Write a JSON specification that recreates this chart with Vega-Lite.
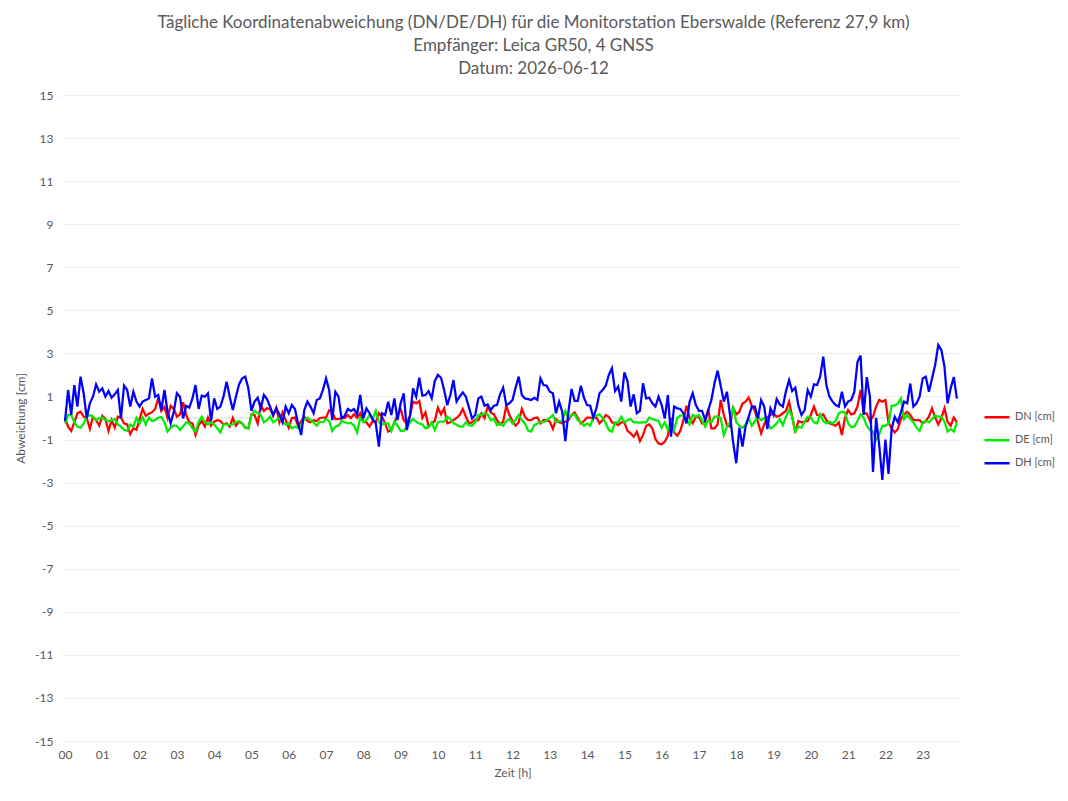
{
  "$schema": "https://vega.github.io/schema/vega-lite/v6.json",
  "width": 895,
  "height": 646,
  "autosize": {"type": "none"},
  "padding": {"left": 65, "top": 95, "right": 108, "bottom": 60},
  "background": "#ffffff",
  "config": {
    "view": {"stroke": null},
    "font": "Lato",
    "axis": {"labelFont": "Lato", "titleFont": "Lato", "labelColor": "#595959", "titleColor": "#595959", "labelFontSize": 12, "titleFontSize": 12, "titleFontWeight": "normal"},
    "legend": {"labelFont": "Lato", "labelColor": "#595959", "labelFontSize": 11}
  },
  "title": {
    "text": ["Tägliche Koordinatenabweichung (DN/DE/DH) für die Monitorstation Eberswalde (Referenz 27,9 km)", "Empfänger: Leica GR50, 4 GNSS", "Datum: 2026-06-12"],
    "anchor": "middle",
    "frame": "group",
    "dx": 21,
    "offset": 11,
    "fontSize": 17,
    "lineHeight": 23,
    "font": "Lato",
    "fontWeight": "normal",
    "color": "#595959"
  },
  "layer": [
    {
      "data": {"values": [{"z": 0}]},
      "mark": {"type": "rule", "color": "#d9d9d9", "strokeWidth": 1},
      "encoding": {"y": {"field": "z", "type": "quantitative"}}
    },
    {
      "data": {"values": [
{"m":0,"DN":0,"DE":-0.25,"DH":-0.14},{"m":5,"DN":-0.4,"DE":0.14,"DH":1.3},{"m":10,"DN":-0.6,"DE":0.14,"DH":0.14},{"m":15,"DN":-0.2,"DE":-0.2,"DH":1.53},{"m":20,"DN":0.22,"DE":-0.4,"DH":0.53},{"m":25,"DN":0.29,"DE":-0.45,"DH":1.92},{"m":30,"DN":0.06,"DE":-0.25,"DH":1.15},{"m":35,"DN":0,"DE":0.06,"DH":0},{"m":40,"DN":-0.5,"DE":0.14,"DH":0.68},{"m":45,"DN":0.06,"DE":0.06,"DH":0.99},
{"m":50,"DN":-0.1,"DE":-0.1,"DH":1.56},{"m":55,"DN":-0.35,"DE":0,"DH":1.22},{"m":60,"DN":0.1,"DE":0.02,"DH":1.38},{"m":65,"DN":-0.05,"DE":-0.1,"DH":0.99},{"m":70,"DN":-0.6,"DE":-0.14,"DH":1.25},{"m":75,"DN":-0.1,"DE":-0.1,"DH":0.94},{"m":80,"DN":-0.45,"DE":-0.05,"DH":1.1},{"m":85,"DN":0.06,"DE":-0.3,"DH":1.3},{"m":90,"DN":0.02,"DE":-0.4,"DH":-0.02},{"m":95,"DN":-0.25,"DE":-0.55,"DH":1.5},
{"m":100,"DN":-0.3,"DE":-0.6,"DH":1.3},{"m":105,"DN":-0.75,"DE":-0.3,"DH":0.53},{"m":110,"DN":-0.48,"DE":-0.4,"DH":1.22},{"m":115,"DN":-0.55,"DE":0,"DH":0.76},{"m":120,"DN":-0.05,"DE":-0.25,"DH":0.53},{"m":125,"DN":0.42,"DE":0.02,"DH":0.76},{"m":130,"DN":0.1,"DE":-0.3,"DH":0.84},{"m":135,"DN":0.2,"DE":0.02,"DH":0.91},{"m":140,"DN":0.26,"DE":-0.14,"DH":1.84},{"m":145,"DN":0.42,"DE":-0.1,"DH":0.99},
{"m":150,"DN":0.94,"DE":0.02,"DH":1.07},{"m":155,"DN":0.33,"DE":0.05,"DH":0.37},{"m":160,"DN":0.51,"DE":-0.2,"DH":1.3},{"m":165,"DN":0,"DE":-0.63,"DH":0.29},{"m":170,"DN":0.57,"DE":-0.45,"DH":-0.25},{"m":175,"DN":0.42,"DE":-0.35,"DH":0.29},{"m":180,"DN":0.06,"DE":-0.36,"DH":1.15},{"m":185,"DN":0.17,"DE":-0.56,"DH":0.99},{"m":190,"DN":0.73,"DE":-0.4,"DH":-0.02},{"m":195,"DN":0.14,"DE":-0.2,"DH":0.57},
{"m":200,"DN":-0.2,"DE":-0.25,"DH":0.48},{"m":205,"DN":-0.25,"DE":-0.48,"DH":0.91},{"m":210,"DN":-0.79,"DE":-0.63,"DH":1.53},{"m":215,"DN":-0.33,"DE":-0.17,"DH":0.42},{"m":220,"DN":-0.14,"DE":0.06,"DH":1.04},{"m":225,"DN":-0.4,"DE":-0.2,"DH":0.99},{"m":230,"DN":0.02,"DE":-0.3,"DH":1.15},{"m":235,"DN":-0.36,"DE":-0.2,"DH":-0.14},{"m":240,"DN":-0.17,"DE":-0.3,"DH":0.91},{"m":245,"DN":-0.1,"DE":-0.48,"DH":0.42},
{"m":250,"DN":-0.14,"DE":-0.67,"DH":0.53},{"m":255,"DN":-0.3,"DE":-0.3,"DH":0.99},{"m":260,"DN":-0.25,"DE":-0.3,"DH":1.69},{"m":265,"DN":-0.4,"DE":-0.33,"DH":0.99},{"m":270,"DN":0,"DE":-0.3,"DH":0.37},{"m":275,"DN":-0.36,"DE":-0.2,"DH":0.99},{"m":280,"DN":-0.17,"DE":-0.14,"DH":1.56},{"m":285,"DN":-0.25,"DE":-0.25,"DH":1.84},{"m":290,"DN":-0.45,"DE":-0.45,"DH":1.92},{"m":295,"DN":-0.48,"DE":-0.48,"DH":1.38},
{"m":300,"DN":0.17,"DE":0.14,"DH":0.33},{"m":305,"DN":0.14,"DE":0.33,"DH":0.76},{"m":310,"DN":-0.25,"DE":0.22,"DH":0.94},{"m":315,"DN":0.6,"DE":0.14,"DH":0.45},{"m":320,"DN":0.33,"DE":-0.2,"DH":1.07},{"m":325,"DN":0.45,"DE":-0.1,"DH":0.88},{"m":330,"DN":0.42,"DE":0.06,"DH":0.53},{"m":335,"DN":0.1,"DE":-0.2,"DH":0.14},{"m":340,"DN":0.48,"DE":-0.1,"DH":0.45},{"m":345,"DN":-0.2,"DE":0.02,"DH":0.17},
{"m":350,"DN":0.26,"DE":-0.2,"DH":-0.2},{"m":355,"DN":-0.1,"DE":-0.3,"DH":0.53},{"m":360,"DN":-0.45,"DE":-0.25,"DH":0.22},{"m":365,"DN":0,"DE":-0.48,"DH":0.6},{"m":370,"DN":0.02,"DE":-0.4,"DH":0.42},{"m":375,"DN":-0.36,"DE":-0.45,"DH":-0.25},{"m":380,"DN":-0.14,"DE":-0.33,"DH":-0.79},{"m":385,"DN":0.06,"DE":-0.05,"DH":0.37},{"m":390,"DN":-0.14,"DE":0.02,"DH":0.76},{"m":395,"DN":-0.2,"DE":-0.1,"DH":0.53},
{"m":400,"DN":-0.1,"DE":-0.2,"DH":0.22},{"m":405,"DN":-0.14,"DE":-0.36,"DH":0.84},{"m":410,"DN":0,"DE":-0.17,"DH":0.91},{"m":415,"DN":0.02,"DE":-0.2,"DH":1.3},{"m":420,"DN":0.02,"DE":-0.05,"DH":1.84},{"m":425,"DN":0.36,"DE":-0.14,"DH":1.3},{"m":430,"DN":0.26,"DE":-0.6,"DH":-0.1},{"m":435,"DN":-0.05,"DE":-0.4,"DH":1.22},{"m":440,"DN":-0.05,"DE":-0.36,"DH":0.99},{"m":445,"DN":0,"DE":-0.14,"DH":-0.02},
{"m":450,"DN":0,"DE":-0.2,"DH":0.1},{"m":455,"DN":0.14,"DE":-0.25,"DH":0.42},{"m":460,"DN":0,"DE":-0.23,"DH":0.33},{"m":465,"DN":0.17,"DE":-0.36,"DH":0.42},{"m":470,"DN":0,"DE":-0.67,"DH":0.17},{"m":475,"DN":0.22,"DE":0,"DH":1.07},{"m":480,"DN":-0.17,"DE":-0.2,"DH":-0.02},{"m":485,"DN":-0.2,"DE":-0.1,"DH":0.45},{"m":490,"DN":-0.4,"DE":0.14,"DH":0.22},{"m":495,"DN":-0.14,"DE":-0.05,"DH":-0.05},
{"m":500,"DN":-0.2,"DE":0.33,"DH":-0.25},{"m":505,"DN":0.22,"DE":-0.2,"DH":-1.33},{"m":510,"DN":0.06,"DE":-0.3,"DH":0.22},{"m":515,"DN":-0.25,"DE":-0.25,"DH":0.14},{"m":520,"DN":-0.63,"DE":-0.25,"DH":0.76},{"m":525,"DN":-0.56,"DE":-0.6,"DH":0.14},{"m":530,"DN":-0.2,"DE":-0.17,"DH":0.91},{"m":535,"DN":0.14,"DE":-0.36,"DH":-0.1},{"m":540,"DN":0.42,"DE":-0.6,"DH":0.68},{"m":545,"DN":-0.1,"DE":-0.6,"DH":1.15},
{"m":550,"DN":-0.25,"DE":-0.42,"DH":-0.56},{"m":555,"DN":0.1,"DE":-0.2,"DH":0.1},{"m":560,"DN":0.76,"DE":-0.05,"DH":1.38},{"m":565,"DN":0.68,"DE":-0.17,"DH":0.99},{"m":570,"DN":0.79,"DE":-0.25,"DH":1.87},{"m":575,"DN":0,"DE":-0.3,"DH":1.04},{"m":580,"DN":0.26,"DE":-0.48,"DH":1.07},{"m":585,"DN":-0.4,"DE":-0.42,"DH":1.25},{"m":590,"DN":-0.25,"DE":-0.2,"DH":0.91},{"m":595,"DN":-0.14,"DE":-0.56,"DH":1.72},
{"m":600,"DN":0.48,"DE":-0.2,"DH":2.0},{"m":605,"DN":0.17,"DE":-0.17,"DH":1.87},{"m":610,"DN":0.45,"DE":-0.17,"DH":1.3},{"m":615,"DN":-0.25,"DE":0.06,"DH":0.6},{"m":620,"DN":-0.2,"DE":-0.05,"DH":1.07},{"m":625,"DN":-0.1,"DE":-0.25,"DH":1.76},{"m":630,"DN":0,"DE":-0.3,"DH":0.76},{"m":635,"DN":0.14,"DE":-0.4,"DH":0.99},{"m":640,"DN":0.42,"DE":-0.4,"DH":1.19},{"m":645,"DN":0.06,"DE":-0.2,"DH":0.99},
{"m":650,"DN":-0.25,"DE":-0.33,"DH":0.48},{"m":655,"DN":-0.2,"DE":-0.36,"DH":-0.02},{"m":660,"DN":-0.08,"DE":-0.2,"DH":0.14},{"m":665,"DN":-0.1,"DE":0.14,"DH":0.91},{"m":670,"DN":0.22,"DE":0.14,"DH":0.99},{"m":675,"DN":0,"DE":0.22,"DH":0.57},{"m":680,"DN":0.53,"DE":0.17,"DH":0.63},{"m":685,"DN":0.26,"DE":-0.1,"DH":0.37},{"m":690,"DN":0.17,"DE":-0.05,"DH":0.57},{"m":695,"DN":-0.1,"DE":-0.33,"DH":0.6},
{"m":700,"DN":-0.3,"DE":-0.25,"DH":1.1},{"m":705,"DN":-0.17,"DE":-0.36,"DH":1.41},{"m":710,"DN":0.57,"DE":-0.14,"DH":0.6},{"m":715,"DN":0.14,"DE":-0.05,"DH":0.68},{"m":720,"DN":-0.14,"DE":-0.25,"DH":0.84},{"m":725,"DN":-0.36,"DE":-0.1,"DH":1.41},{"m":730,"DN":-0.2,"DE":0.14,"DH":1.92},{"m":735,"DN":0.42,"DE":-0.1,"DH":1.07},{"m":740,"DN":0.06,"DE":-0.25,"DH":0.91},{"m":745,"DN":-0.1,"DE":-0.58,"DH":0.88},
{"m":750,"DN":-0.1,"DE":-0.63,"DH":0.84},{"m":755,"DN":0,"DE":-0.33,"DH":0.94},{"m":760,"DN":0.02,"DE":-0.27,"DH":0.84},{"m":765,"DN":-0.25,"DE":-0.17,"DH":1.84},{"m":770,"DN":-0.1,"DE":-0.2,"DH":1.53},{"m":775,"DN":-0.1,"DE":-0.1,"DH":1.5},{"m":780,"DN":-0.17,"DE":0,"DH":1.22},{"m":785,"DN":-0.5,"DE":0.14,"DH":1.15},{"m":790,"DN":-0.05,"DE":-0.2,"DH":0.22},{"m":795,"DN":-0.2,"DE":-0.14,"DH":0.76},
{"m":800,"DN":-0.25,"DE":-0.14,"DH":0.29},{"m":805,"DN":-0.17,"DE":0.33,"DH":-1.07},{"m":810,"DN":-0.1,"DE":0,"DH":0.29},{"m":815,"DN":0.14,"DE":0.14,"DH":1.35},{"m":820,"DN":0.26,"DE":0.17,"DH":0.79},{"m":825,"DN":0,"DE":-0.1,"DH":0.79},{"m":830,"DN":-0.25,"DE":-0.2,"DH":1.5},{"m":835,"DN":-0.14,"DE":-0.36,"DH":0.94},{"m":840,"DN":0.02,"DE":-0.25,"DH":0.6},{"m":845,"DN":0.02,"DE":-0.36,"DH":0.57},
{"m":850,"DN":0,"DE":0,"DH":0.02},{"m":855,"DN":0.02,"DE":0.11,"DH":0.45},{"m":860,"DN":-0.25,"DE":0.17,"DH":1.15},{"m":865,"DN":-0.1,"DE":0,"DH":1.3},{"m":870,"DN":0.14,"DE":-0.25,"DH":1.5},{"m":875,"DN":0.06,"DE":-0.56,"DH":2.0},{"m":880,"DN":-0.2,"DE":-0.63,"DH":2.31},{"m":885,"DN":-0.25,"DE":-0.2,"DH":1.25},{"m":890,"DN":-0.33,"DE":-0.2,"DH":1.46},{"m":895,"DN":-0.2,"DE":0.06,"DH":0.76},
{"m":900,"DN":-0.2,"DE":-0.2,"DH":2.12},{"m":905,"DN":-0.6,"DE":-0.1,"DH":1.72},{"m":910,"DN":-0.71,"DE":-0.05,"DH":0.53},{"m":915,"DN":-0.87,"DE":-0.2,"DH":1.1},{"m":920,"DN":-0.63,"DE":-0.2,"DH":0.22},{"m":925,"DN":-1.07,"DE":-0.22,"DH":0.33},{"m":930,"DN":-0.79,"DE":-0.2,"DH":1.61},{"m":935,"DN":-0.36,"DE":-0.2,"DH":0.91},{"m":940,"DN":-0.3,"DE":0.02,"DH":0.94},{"m":945,"DN":-0.48,"DE":-0.05,"DH":0.68},
{"m":950,"DN":-0.98,"DE":-0.1,"DH":0.53},{"m":955,"DN":-1.18,"DE":-0.14,"DH":0.99},{"m":960,"DN":-1.22,"DE":-0.45,"DH":0.6},{"m":965,"DN":-1.1,"DE":-0.2,"DH":-0.02},{"m":970,"DN":-0.82,"DE":-0.56,"DH":1.07},{"m":975,"DN":0,"DE":-0.2,"DH":-0.87},{"m":980,"DN":-0.67,"DE":-0.56,"DH":0.53},{"m":985,"DN":-0.82,"DE":0,"DH":0.45},{"m":990,"DN":-0.6,"DE":0.11,"DH":0.42},{"m":995,"DN":-0.1,"DE":0.11,"DH":0.22},
{"m":1000,"DN":0.57,"DE":-0.05,"DH":-0.25},{"m":1005,"DN":0,"DE":-0.3,"DH":0.76},{"m":1010,"DN":-0.25,"DE":0.14,"DH":1.15},{"m":1015,"DN":0.06,"DE":0.06,"DH":0.6},{"m":1020,"DN":0.05,"DE":0.14,"DH":0.33},{"m":1025,"DN":-0.25,"DE":-0.1,"DH":0.33},{"m":1030,"DN":-0.14,"DE":-0.4,"DH":-0.1},{"m":1035,"DN":0.42,"DE":-0.1,"DH":0.37},{"m":1040,"DN":-0.48,"DE":-0.2,"DH":0.84},{"m":1045,"DN":-0.48,"DE":0.06,"DH":1.61},
{"m":1050,"DN":-0.3,"DE":0.06,"DH":2.2},{"m":1055,"DN":0.84,"DE":0,"DH":1.5},{"m":1060,"DN":0.14,"DE":-0.79,"DH":0.76},{"m":1065,"DN":-0.33,"DE":-0.4,"DH":1.22},{"m":1070,"DN":-0.4,"DE":-0.2,"DH":0.14},{"m":1075,"DN":0.48,"DE":0.53,"DH":-1.13},{"m":1080,"DN":0.17,"DE":-0.2,"DH":-2.1},{"m":1085,"DN":0.29,"DE":-0.36,"DH":-0.45},{"m":1090,"DN":0.67,"DE":-0.45,"DH":-1.33},{"m":1095,"DN":0.76,"DE":-0.3,"DH":-0.4},
{"m":1100,"DN":0.95,"DE":0,"DH":0.06},{"m":1105,"DN":0.57,"DE":-0.36,"DH":0.53},{"m":1110,"DN":0.33,"DE":-0.14,"DH":0.53},{"m":1115,"DN":-0.2,"DE":0.06,"DH":-0.02},{"m":1120,"DN":-0.71,"DE":-0.1,"DH":0.84},{"m":1125,"DN":-0.3,"DE":0,"DH":0.53},{"m":1130,"DN":0.02,"DE":-0.17,"DH":-0.51},{"m":1135,"DN":0.14,"DE":-0.48,"DH":0.45},{"m":1140,"DN":0.22,"DE":-0.4,"DH":0.14},{"m":1145,"DN":0.06,"DE":-0.25,"DH":0.88},
{"m":1150,"DN":0.11,"DE":-0.05,"DH":0.63},{"m":1155,"DN":0.22,"DE":-0.33,"DH":0.53},{"m":1160,"DN":0.33,"DE":0.06,"DH":1.25},{"m":1165,"DN":0.76,"DE":0.37,"DH":1.76},{"m":1170,"DN":0.06,"DE":0.06,"DH":1.25},{"m":1175,"DN":-0.67,"DE":-0.63,"DH":1.41},{"m":1180,"DN":-0.14,"DE":-0.4,"DH":0.57},{"m":1185,"DN":-0.2,"DE":-0.45,"DH":0.14},{"m":1190,"DN":-0.17,"DE":-0.17,"DH":0.37},{"m":1195,"DN":-0.14,"DE":0.06,"DH":1.3},
{"m":1200,"DN":0.14,"DE":0.02,"DH":0.99},{"m":1205,"DN":0.53,"DE":-0.2,"DH":1.56},{"m":1210,"DN":0.14,"DE":-0.25,"DH":1.53},{"m":1215,"DN":0.11,"DE":0.17,"DH":1.92},{"m":1220,"DN":0.17,"DE":-0.14,"DH":2.85},{"m":1225,"DN":-0.1,"DE":-0.25,"DH":1.53},{"m":1230,"DN":-0.25,"DE":-0.17,"DH":0.99},{"m":1235,"DN":-0.3,"DE":-0.25,"DH":0.76},{"m":1240,"DN":-0.36,"DE":-0.14,"DH":0.6},{"m":1245,"DN":-0.2,"DE":0.22,"DH":0.53},
{"m":1250,"DN":-0.79,"DE":0.29,"DH":1.22},{"m":1255,"DN":0.02,"DE":0.26,"DH":0.53},{"m":1260,"DN":0.37,"DE":-0.25,"DH":0.76},{"m":1265,"DN":0.17,"DE":-0.42,"DH":0.84},{"m":1270,"DN":0.22,"DE":-0.4,"DH":1.22},{"m":1275,"DN":0.53,"DE":-0.14,"DH":2.6},{"m":1280,"DN":1.3,"DE":0.17,"DH":2.9},{"m":1285,"DN":0.22,"DE":0.02,"DH":0.14},{"m":1290,"DN":0.22,"DE":-0.36,"DH":1.9},{"m":1295,"DN":-0.14,"DE":-0.56,"DH":1.0},
{"m":1300,"DN":0.06,"DE":-0.63,"DH":-2.5},{"m":1305,"DN":0.53,"DE":-1.02,"DH":0},{"m":1310,"DN":0.84,"DE":-0.76,"DH":-1.25},{"m":1315,"DN":0.76,"DE":-0.36,"DH":-2.88},{"m":1320,"DN":0.84,"DE":-0.36,"DH":-1.0},{"m":1325,"DN":-0.2,"DE":-0.25,"DH":-2.6},{"m":1330,"DN":-0.48,"DE":0.57,"DH":-0.5},{"m":1335,"DN":-0.67,"DE":0.57,"DH":0.06},{"m":1340,"DN":-0.51,"DE":0.68,"DH":-0.2},{"m":1345,"DN":-0.05,"DE":0.91,"DH":0.26},
{"m":1350,"DN":0.17,"DE":-0.05,"DH":0.76},{"m":1355,"DN":0.29,"DE":0.14,"DH":0.68},{"m":1360,"DN":0.14,"DE":-0.05,"DH":1.6},{"m":1365,"DN":-0.1,"DE":-0.2,"DH":0.53},{"m":1370,"DN":-0.1,"DE":-0.45,"DH":0.68},{"m":1375,"DN":-0.1,"DE":-0.6,"DH":0.99},{"m":1380,"DN":-0.25,"DE":-0.2,"DH":1.84},{"m":1385,"DN":-0.14,"DE":-0.14,"DH":1.92},{"m":1390,"DN":0.06,"DE":-0.2,"DH":1.22},{"m":1395,"DN":0.45,"DE":-0.05,"DH":1.84},
{"m":1400,"DN":0.02,"DE":0.11,"DH":2.46},{"m":1405,"DN":-0.3,"DE":0.06,"DH":3.39},{"m":1410,"DN":0,"DE":0.06,"DH":3.16},{"m":1415,"DN":0.45,"DE":-0.17,"DH":2.38},{"m":1420,"DN":-0.17,"DE":-0.63,"DH":0.68},{"m":1425,"DN":-0.36,"DE":-0.51,"DH":1.38},{"m":1430,"DN":0.02,"DE":-0.63,"DH":1.9},{"m":1435,"DN":-0.2,"DE":-0.2,"DH":0.9}
      ]},
      "transform": [{"fold": ["DN", "DE", "DH"], "as": ["s", "v"]}],
      "mark": {"type": "line", "strokeWidth": 2.25, "interpolate": "linear"},
      "encoding": {
        "x": {"field": "m", "type": "quantitative", "scale": {"domain": [0, 1440], "nice": false, "zero": false},
          "axis": {"values": [0,60,120,180,240,300,360,420,480,540,600,660,720,780,840,900,960,1020,1080,1140,1200,1260,1320,1380],
            "labelExpr": "format(datum.value/60, '02d')", "title": "Zeit [h]", "grid": false, "ticks": false, "domain": false,
            "labelPadding": 8, "titlePadding": 7, "labelFlush": false, "titleFontSize": 12}},
        "y": {"field": "v", "type": "quantitative", "scale": {"domain": [-15, 15], "nice": false},
          "axis": {"values": [-15,-13,-11,-9,-7,-5,-3,-1,1,3,5,7,9,11,13,15], "labelExpr": "toString(datum.value)", "title": "Abweichung [cm]", "grid": true,
            "gridColor": "#d9d9d9", "gridDash": [2, 2], "ticks": false, "domain": false, "labelPadding": 12, "titlePadding": 7, "titleFontSize": 12}},
        "color": {"field": "s", "type": "nominal", "sort": ["DN", "DE", "DH"],
          "scale": {"domain": ["DN", "DE", "DH"], "range": ["#ff0000", "#00ee00", "#0000ff"]},
          "legend": {"title": null, "orient": "none", "legendX": 918, "legendY": 311, "symbolType": "stroke", "symbolSize": 625,
            "symbolStrokeWidth": 2.5, "labelExpr": "datum.label + ' [cm]'", "clipHeight": 22.5, "rowPadding": 0, "labelOffset": 4}}
      }
    }
  ]
}
